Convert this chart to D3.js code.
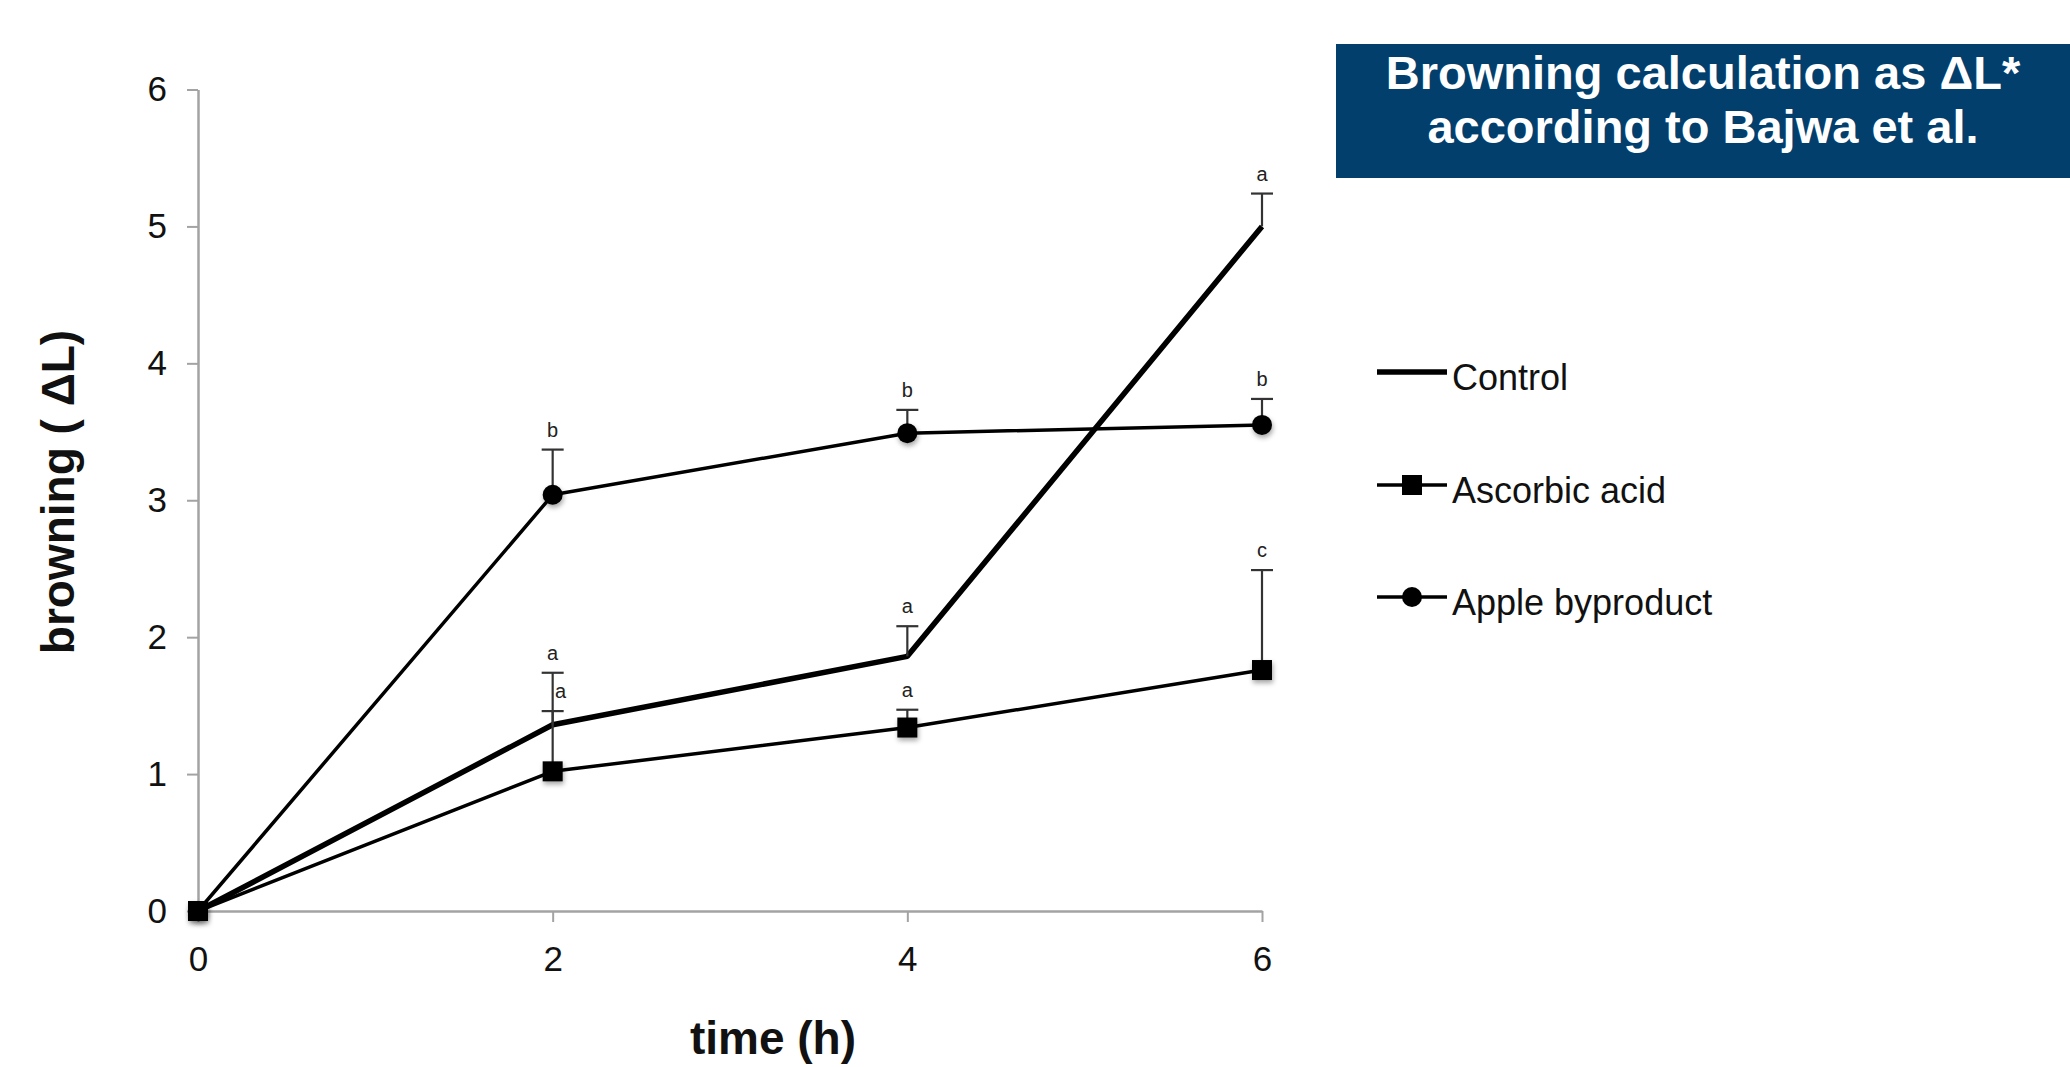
<!DOCTYPE html>
<html>
<head>
<meta charset="utf-8">
<script src="https://cdn.jsdelivr.net/npm/d3@7"></script>
<style>
  body { margin: 0; background: #fff; }
  text { font-family: 'Liberation Sans', Arial, Helvetica, sans-serif; }
</style>
</head>
<body>
<div id="chart"></div>
<script>
// data
const times = [0, 2, 4, 6];
const yTicks = [0, 1, 2, 3, 4, 5, 6];

const controlValues = [0, 1.36, 1.86, 5.0];
const controlErrors = [0, 0.38, 0.22, 0.24];
const controlLetters = ['', 'a', 'a', 'a'];

const ascorbicValues = [0, 1.02, 1.34, 1.76];
const ascorbicErrors = [0, 0.44, 0.13, 0.73];
const ascorbicLetters = ['', 'a', 'a', 'c'];

const appleValues = [0, 3.04, 3.49, 3.55];
const appleErrors = [0, 0.33, 0.17, 0.19];
const appleLetters = ['', 'b', 'b', 'b'];

const seriesNames = ['Control', 'Ascorbic acid', 'Apple byproduct'];
const titleLines = ['Browning calculation as \u0394L*', 'according to Bajwa et al.'];

const W = 2070, H = 1067;

const series = [
  { name: seriesNames[0], values: controlValues, errors: controlErrors, letters: controlLetters, marker: 'none', width: 5.5 },
  { name: seriesNames[1], values: ascorbicValues, errors: ascorbicErrors, letters: ascorbicLetters, marker: 'square', width: 3.5 },
  { name: seriesNames[2], values: appleValues, errors: appleErrors, letters: appleLetters, marker: 'circle', width: 3.5 }
];

const svg = d3.select('#chart').append('svg')
  .attr('width', W)
  .attr('height', H);

const defs = svg.append('defs');
const shadow = defs.append('filter').attr('id', 'shadow')
  .attr('x', '-50%').attr('y', '-50%').attr('width', '200%').attr('height', '200%');
shadow.append('feDropShadow')
  .attr('dx', 1).attr('dy', 3).attr('stdDeviation', 2.5)
  .attr('flood-color', '#000').attr('flood-opacity', 0.35);

// scales
const x = d3.scaleLinear().domain([0, 6]).range([198, 1262]);
const y = d3.scaleLinear().domain([0, 6]).range([911, 89.5]);

// axes
const xAxis = svg.append('g')
  .attr('transform', `translate(0,${y(0)})`)
  .call(d3.axisBottom(x).tickValues(times).tickFormat(d3.format('d'))
    .tickSize(11).tickSizeOuter(0).tickPadding(24));

const yAxis = svg.append('g')
  .attr('transform', `translate(${x(0)},0)`)
  .call(d3.axisLeft(y).tickValues(yTicks).tickFormat(d3.format('d'))
    .tickSize(11).tickSizeOuter(0).tickPadding(20));

[xAxis, yAxis].forEach(a => {
  a.select('.domain').attr('stroke', '#a3a3a3').attr('stroke-width', 2.5);
  a.selectAll('.tick line').attr('stroke', '#a3a3a3').attr('stroke-width', 2);
  a.selectAll('.tick text')
    .attr('fill', '#111')
    .style('font-size', '35px')
    .style('font-family', "'Liberation Sans', Arial, sans-serif");
});

// axis titles
svg.append('text')
  .attr('x', 773)
  .attr('y', 1054)
  .attr('text-anchor', 'middle')
  .style('font-size', '46px')
  .style('font-weight', 'bold')
  .attr('fill', '#111')
  .text('time (h)');

svg.append('text')
  .attr('transform', 'rotate(-90)')
  .attr('x', -492)
  .attr('y', 74)
  .attr('text-anchor', 'middle')
  .style('font-size', '46px')
  .style('font-weight', 'bold')
  .attr('fill', '#111')
  .text('browning ( \u0394L)');

// lines
const line = d3.line()
  .x((d, i) => x(times[i]))
  .y(d => y(d));

series.forEach(s => {
  svg.append('path')
    .datum(s.values)
    .attr('d', line)
    .attr('fill', 'none')
    .attr('stroke', '#000')
    .attr('stroke-width', s.width)
    .attr('stroke-linejoin', 'round');
});

// error bars (upper only) and letters
const capHalf = 11;
series.forEach(s => {
  const g = svg.append('g');
  s.values.forEach((v, i) => {
    if (!s.errors[i]) return;
    const cx = x(times[i]);
    const top = y(v + s.errors[i]);
    g.append('line')
      .attr('x1', cx).attr('x2', cx)
      .attr('y1', y(v)).attr('y2', top)
      .attr('stroke', '#333').attr('stroke-width', 2.2);
    g.append('line')
      .attr('x1', cx - capHalf).attr('x2', cx + capHalf)
      .attr('y1', top).attr('y2', top)
      .attr('stroke', '#333').attr('stroke-width', 2.2);

    // shift a label right when another series' cap sits just above it
    const crowded = series.some(o => o !== s && o.errors[i] &&
      (o.values[i] + o.errors[i]) > (v + s.errors[i]) &&
      y(v + s.errors[i]) - y(o.values[i] + o.errors[i]) < 45);
    g.append('text')
      .attr('x', cx + (crowded ? 8 : 0))
      .attr('y', top - 13)
      .attr('text-anchor', 'middle')
      .style('font-size', '20px')
      .attr('fill', '#222')
      .text(s.letters[i]);
  });
});

// markers
series.forEach(s => {
  if (s.marker === 'square') {
    svg.append('g').selectAll('rect')
      .data(s.values)
      .enter().append('rect')
      .attr('x', (d, i) => x(times[i]) - 10)
      .attr('y', d => y(d) - 10)
      .attr('width', 20)
      .attr('height', 20)
      .attr('fill', '#000')
      .attr('filter', 'url(#shadow)');
  } else if (s.marker === 'circle') {
    svg.append('g').selectAll('circle')
      .data(s.values)
      .enter().append('circle')
      .attr('cx', (d, i) => x(times[i]))
      .attr('cy', d => y(d))
      .attr('r', 10)
      .attr('fill', '#000')
      .attr('filter', 'url(#shadow)');
  }
});

// legend
const legendY = [372, 485, 597];
const legend = svg.append('g');
series.forEach((s, i) => {
  const ly = legendY[i];
  legend.append('line')
    .attr('x1', 1377).attr('x2', 1447)
    .attr('y1', ly).attr('y2', ly)
    .attr('stroke', '#000')
    .attr('stroke-width', s.width);
  if (s.marker === 'square') {
    legend.append('rect')
      .attr('x', 1412 - 10).attr('y', ly - 10)
      .attr('width', 20).attr('height', 20)
      .attr('fill', '#000');
  } else if (s.marker === 'circle') {
    legend.append('circle')
      .attr('cx', 1412).attr('cy', ly)
      .attr('r', 10)
      .attr('fill', '#000');
  }
  legend.append('text')
    .attr('x', 1452)
    .attr('y', ly + 18)
    .style('font-size', '36px')
    .attr('fill', '#111')
    .text(s.name);
});

// title box
svg.append('rect')
  .attr('x', 1336)
  .attr('y', 44)
  .attr('width', W - 1336)
  .attr('height', 134)
  .attr('fill', '#023f6d');

svg.append('g').selectAll('text')
  .data(titleLines)
  .enter().append('text')
  .attr('x', 1703)
  .attr('y', (d, i) => 89 + i * 54)
  .attr('text-anchor', 'middle')
  .attr('fill', '#fff')
  .style('font-size', '47px')
  .style('font-weight', 'bold')
  .text(d => d);
</script>
</body>
</html>
